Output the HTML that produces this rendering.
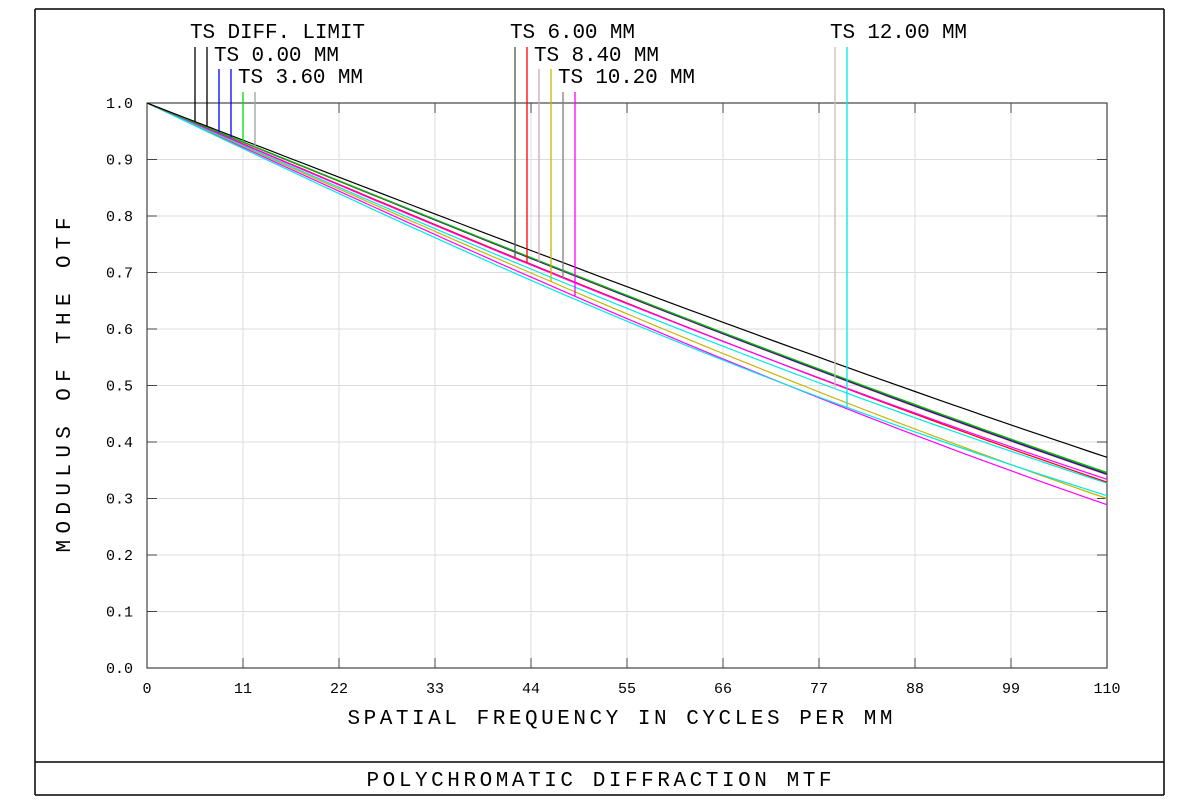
<!DOCTYPE html>
<html><head><style>
body{margin:0;background:#fff;}
svg text{font-family:"Liberation Mono",monospace;fill:#000;}
</style></head><body>
<svg id="s" width="1200" height="802" xmlns="http://www.w3.org/2000/svg">
<rect x="0" y="0" width="1200" height="802" fill="#fff"/>
<g stroke="#000" stroke-width="1.5" fill="none">
<line x1="35" y1="9" x2="1164" y2="9"/>
<line x1="35" y1="9" x2="35" y2="795"/>
<line x1="1164" y1="9" x2="1164" y2="795"/>
<line x1="35" y1="762" x2="1164" y2="762"/>
<line x1="35" y1="795" x2="1164" y2="795"/>
</g>
<g id="grid"></g>
<rect x="147" y="103" width="960" height="565" fill="none" stroke="#444" stroke-width="1.2"/>
<g id="curves"></g>
<g id="leg"></g>
<g font-size="15" id="lab"></g>
<text x="620" y="724" font-size="21" text-anchor="middle" textLength="545">SPATIAL FREQUENCY IN CYCLES PER MM</text>
<text transform="translate(70,385) rotate(-90)" font-size="21" text-anchor="middle" textLength="335">MODULUS OF THE OTF</text>
<text x="599" y="786" font-size="21" text-anchor="middle" textLength="465">POLYCHROMATIC DIFFRACTION MTF</text>
<text x="190" y="38" font-size="21" textLength="175">TS DIFF. LIMIT</text>
<text x="214" y="61" font-size="21" textLength="125">TS 0.00 MM</text>
<text x="238" y="83" font-size="21" textLength="125">TS 3.60 MM</text>
<text x="510" y="38" font-size="21" textLength="125">TS 6.00 MM</text>
<text x="534" y="61" font-size="21" textLength="125">TS 8.40 MM</text>
<text x="558" y="83" font-size="21" textLength="137">TS 10.20 MM</text>
<text x="830" y="38" font-size="21" textLength="137">TS 12.00 MM</text>
</svg>
<script>
var NS="http://www.w3.org/2000/svg";
function el(p,t,a){var e=document.createElementNS(NS,t);for(var k in a)e.setAttribute(k,a[k]);document.getElementById(p).appendChild(e);return e;}
function X(f){return 147+f/110*960;}
function Y(v){return 668-v*565;}
function m(n){if(n>=1)return 0;return 2/Math.PI*(Math.acos(n)-n*Math.sqrt(1-n*n));}
function fc(end){var lo=110,hi=2000;for(var i=0;i<60;i++){var mid=(lo+hi)/2;if(m(110/mid)<end)lo=mid;else hi=mid;}return lo;}
for(var i=1;i<10;i++){el("grid","line",{x1:X(i*11),y1:103,x2:X(i*11),y2:668,stroke:"#dcdcdc","stroke-width":1});
el("grid","line",{x1:147,y1:Y(i/10),x2:1107,y2:Y(i/10),stroke:"#dcdcdc","stroke-width":1});}
for(var i=1;i<10;i++){el("grid","line",{x1:X(i*11),y1:103,x2:X(i*11),y2:113,stroke:"#444"});el("grid","line",{x1:X(i*11),y1:658,x2:X(i*11),y2:668,stroke:"#444"});
el("grid","line",{x1:147,y1:Y(i/10),x2:157,y2:Y(i/10),stroke:"#444"});el("grid","line",{x1:1097,y1:Y(i/10),x2:1107,y2:Y(i/10),stroke:"#444"});}
for(var i=0;i<=10;i++){var t=el("lab","text",{x:X(i*11),y:693,"text-anchor":"middle"});t.textContent=i*11;
var t2=el("lab","text",{x:133,y:Y(i/10)+5,"text-anchor":"end"});t2.textContent=(i/10).toFixed(1);}
var C=[["#ff00ff",.289,.008],["#c8b400",.300,.006],["#00e8e8",.305,.022],["#00e8e8",.327,.012],["#ff0000",.329,.004],["#ff00ff",.334,.008],["#ff8c00",.342,0],["#0000ff",.343,0],["#8b4513",.345,0],["#00c000",.346,0],["#000",.373,0]];
function val(F,a,f){return m(f/F)-a*Math.sin(Math.PI*f/110);}
C.forEach(function(c){var F=fc(c[1]),d="";for(var f=0;f<=110;f+=2){d+=(f?"L":"M")+X(f).toFixed(1)+","+Y(val(F,c[2],f)).toFixed(1);}
el("curves","path",{d:d,stroke:c[0],fill:"none","stroke-width":1.2});});
var L=[[195,47,"#000",.373,0],[207,47,"#000",.373,0],[219,69,"#0000ff",.343,0],[231,69,"#0000ff",.343,0],[243,92,"#00e000",.346,0],[255,92,"#a0a0a0",.346,0],
[515,47,"#555",.329,.004],[527,47,"#ff0000",.329,.004],[539,69,"#d8a0c0",.342,0],[551,69,"#c8b400",.300,.006],[563,92,"#808080",.334,.008],[575,92,"#ff00ff",.289,.008],
[835,47,"#c0c0c0",.327,.012],[847,47,"#00e8e8",.305,.022]];
L.forEach(function(l){var f=(l[0]-147)/960*110;var v=val(fc(l[3]),l[4],f);el("leg","line",{x1:l[0],y1:l[1],x2:l[0],y2:Y(v),stroke:l[2],"stroke-width":1.3});});
</script>
</body></html>
